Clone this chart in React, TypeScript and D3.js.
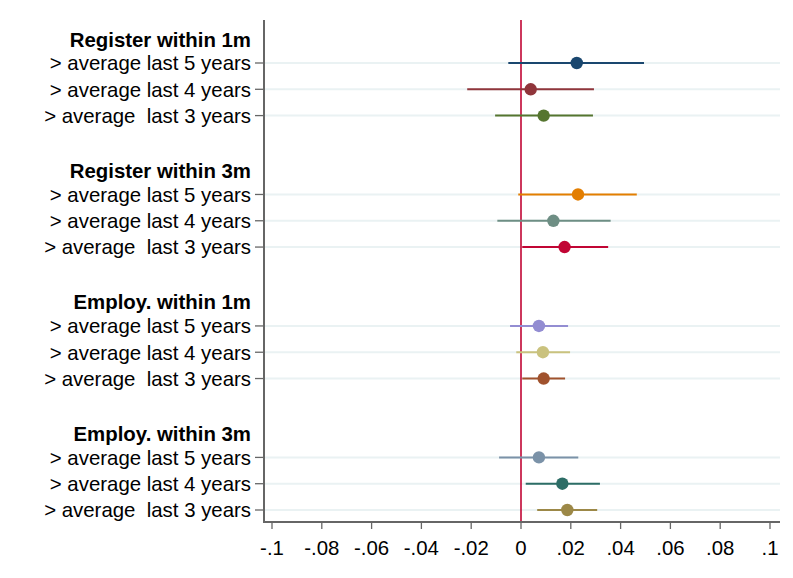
import React from 'react';
import * as d3 from 'd3';

// groups and rows
const groups = ['Register within 1m', 'Register within 3m', 'Employ. within 1m', 'Employ. within 3m'];
const rowLabels = ['> average last 5 years', '> average last 4 years', '> average  last 3 years'];

// point estimates, lower and upper bounds, by group then row
const estimates = [
  [0.0224, 0.0039, 0.0091],
  [0.0229, 0.013, 0.0175],
  [0.0072, 0.0088, 0.0091],
  [0.0072, 0.0166, 0.0186],
];
const lower = [
  [-0.0051, -0.0216, -0.0104],
  [-0.0011, -0.0095, 0.0005],
  [-0.0044, -0.0019, 0.0005],
  [-0.0088, 0.0019, 0.0065],
];
const upper = [
  [0.0494, 0.0293, 0.0289],
  [0.0465, 0.036, 0.035],
  [0.0189, 0.0197, 0.0177],
  [0.023, 0.0317, 0.0306],
];
const colors = [
  ['#1a476f', '#90353b', '#55752f'],
  ['#e37e00', '#6e8e84', '#c10534'],
  ['#938dd2', '#cac27e', '#a0522d'],
  ['#7b92a8', '#2d6d66', '#9c8847'],
];
const xTicks = [-0.1, -0.08, -0.06, -0.04, -0.02, 0, 0.02, 0.04, 0.06, 0.08, 0.1];

const W = 793;
const H = 578;
const axisX = 264;
const axisY = 522;
const plotRight = 780;
const font = '"Liberation Sans", Arial, sans-serif';
const fs = 20.4;

const fmt = (v: number) => {
  if (Math.abs(v) < 1e-9) return '0';
  const s = d3.format('.2~f')(v).replace('\u2212', '-');
  return s.replace(/^(-?)0\./, '$1.');
};

export default function App() {
  const x = d3.scaleLinear().domain([-0.1, 0.1]).range([272, 770]);
  // 4 slots per group (header + 3 rows), with a blank slot between groups
  const y = d3.scaleLinear().domain([1, 18]).range([63, 510]);
  const slot = (g: number, r: number) => g * 5 + r + 1;

  return (
    <svg width={W} height={H} style={{ position: 'absolute', left: 0, top: 0, background: '#fff' }}
      fontFamily={font}>
      {/* gridlines */}
      {groups.map((g, gi) =>
        rowLabels.map((_, ri) => (
          <line key={`grid-${gi}-${ri}`} x1={axisX} x2={plotRight}
            y1={y(slot(gi, ri))} y2={y(slot(gi, ri))} stroke="#eaf2f3" strokeWidth={2} />
        ))
      )}
      {/* zero line */}
      <line x1={x(0)} x2={x(0)} y1={20} y2={axisY} stroke="#c10534" strokeWidth={1.6} />
      {/* confidence intervals and points */}
      {groups.map((g, gi) =>
        rowLabels.map((_, ri) => {
          const yy = y(slot(gi, ri));
          return (
            <g key={`m-${gi}-${ri}`}>
              <line x1={x(lower[gi][ri])} x2={x(upper[gi][ri])} y1={yy} y2={yy}
                stroke={colors[gi][ri]} strokeWidth={2} />
              <circle cx={x(estimates[gi][ri])} cy={yy} r={6.2} fill={colors[gi][ri]} />
            </g>
          );
        })
      )}
      {/* y axis */}
      <line x1={axisX} x2={axisX} y1={20} y2={axisY + 1} stroke="#666" strokeWidth={2} />
      {groups.map((g, gi) => (
        <g key={`lab-${gi}`}>
          <text x={251} y={y(slot(gi, -1)) + 2.5} dy="0.36em" textAnchor="end" fontSize={fs}
            fontWeight="bold" fill="#000">{g}</text>
          {rowLabels.map((lab, ri) => (
            <g key={`rl-${ri}`}>
              <line x1={axisX - 9} x2={axisX} y1={y(slot(gi, ri))} y2={y(slot(gi, ri))}
                stroke="#666" strokeWidth={1.3} />
              <text x={251} y={y(slot(gi, ri))} dy="0.36em" textAnchor="end" fontSize={fs}
                fill="#000" style={{ whiteSpace: 'pre' }}>{lab}</text>
            </g>
          ))}
        </g>
      ))}
      {/* x axis */}
      <line x1={axisX - 1} x2={plotRight} y1={axisY} y2={axisY} stroke="#666" strokeWidth={2} />
      {xTicks.map((t) => (
        <g key={`xt-${t}`}>
          <line x1={x(t)} x2={x(t)} y1={axisY} y2={axisY + 7} stroke="#666" strokeWidth={1.3} />
          <text x={x(t)} y={548} dy="0.36em" textAnchor="middle" fontSize={fs} fill="#000">{fmt(t)}</text>
        </g>
      ))}
    </svg>
  );
}
